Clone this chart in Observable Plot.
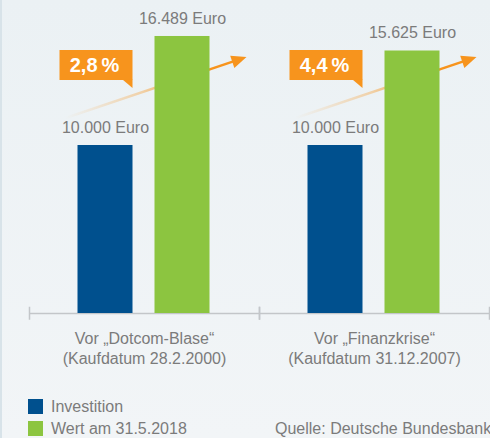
<!DOCTYPE html>
<html><head><meta charset="utf-8">
<script src="https://cdn.jsdelivr.net/npm/d3@7"></script>
<script src="https://cdn.jsdelivr.net/npm/@observablehq/plot@0.6"></script>
<style>
html,body{margin:0;padding:0;}
body{width:490px;height:438px;overflow:hidden;background:linear-gradient(#ebf1f4,#f2f5f7);font-family:"Liberation Sans",Arial,sans-serif;position:relative;}
#edge{position:absolute;left:0;top:0;width:2px;height:438px;background:#d8e3e9;}
#chart svg{display:block;}
.lt{position:absolute;font-size:16px;line-height:18px;color:#7b7b7b;white-space:nowrap;}
.sw{position:absolute;left:28px;width:15px;height:14.5px;}
</style></head>
<body>
<div id="edge"></div>
<div id="chart"></div>
<div id="legend"></div>
<script>
const groupKeys = ["Dotcom", "Finanzkrise"];
const groupLabels = ["Vor „Dotcom-Blase“\n(Kaufdatum 28.2.2000)", "Vor „Finanzkrise“\n(Kaufdatum 31.12.2007)"];
const series = ["Investition", "Wert am 31.5.2018"];
const investition = [10000, 10000];
const wert = [16489, 15625];
const rendite = ["2,8\u2009%", "4,4\u2009%"];
const colors = ["#00508e", "#8cc540"];
const quelle = "Quelle: Deutsche Bundesbank";

const rows = groupKeys.flatMap((g, i) => [
  {group: g, series: series[0], value: investition[i]},
  {group: g, series: series[1], value: wert[i]}
]);
const groupsTbl = groupKeys.map((g, i) => ({group: g, label: groupLabels[i], pct: rendite[i]}));
const fmt = v => d3.format(",")(v).replace(/,/g, ".") + " Euro";
const orange = "#f7941d";

function callout(index, scales) {
  const x = scales.x, bw = x.bandwidth();
  const b0 = x(series[0]), g0 = x(series[1]);
  const g = d3.create("svg:g");
  const defs = g.append("defs");
  const lg = defs.append("linearGradient").attr("id", "arrGrad").attr("x1", 0).attr("y1", 0).attr("x2", 1).attr("y2", 0);
  lg.append("stop").attr("offset", "0%").attr("stop-color", orange).attr("stop-opacity", 0);
  lg.append("stop").attr("offset", "45%").attr("stop-color", orange).attr("stop-opacity", 0.35);
  lg.append("stop").attr("offset", "80%").attr("stop-color", orange).attr("stop-opacity", 1);
  lg.append("stop").attr("offset", "100%").attr("stop-color", orange).attr("stop-opacity", 1);
  for (const i of index) {
    const d = groupsTbl[i];
    const sx = b0 - 12, sy = 118, tx = g0 + bw + 37, ty = 57;
    const L = Math.hypot(tx - sx, ty - sy), ux = (tx - sx) / L, uy = (ty - sy) / L;
    const nx = -uy, ny = ux;
    const hl = 15, hw = 6.5;
    const ex = tx - ux * (hl - 2), ey = ty - uy * (hl - 2);
    g.append("path").attr("d", `M${sx},${sy}L${ex},${ey}`).attr("stroke", "url(#arrGrad)").attr("stroke-width", 2.5).attr("fill", "none");
    const bx = tx - ux * hl, by = ty - uy * hl;
    g.append("path").attr("d", `M${tx},${ty}L${bx + nx * hw},${by + ny * hw}L${bx - nx * hw},${by - ny * hw}Z`).attr("fill", orange);
    const rx = b0 - 18, rw = bw + 18;
    g.append("rect").attr("x", rx).attr("y", 50).attr("width", rw).attr("height", 30).attr("fill", orange);
    g.append("path").attr("d", `M${rx + rw - 10},79.5L${rx + rw},79.5L${rx + rw},88Z`).attr("fill", orange);
    g.append("text").attr("x", b0 + 17).attr("y", 72).attr("text-anchor", "middle").attr("fill", "white")
      .attr("font-weight", "bold").attr("font-size", 20).text(d.pct);
  }
  return g.node();
}

const tickStyle = {stroke: "#c3c6c9", strokeWidth: 1.5, insetTop: 296.4, insetBottom: -5.5};
const plot = Plot.plot({
  width: 490, height: 390,
  marginLeft: 28.5, marginRight: 0.5, marginTop: 10.6, marginBottom: 77,
  style: {background: "transparent", fontFamily: "Liberation Sans, Arial, sans-serif", overflow: "visible"},
  fx: {domain: groupKeys, padding: 0, axis: null},
  x: {domain: series, paddingInner: 0.2885, paddingOuter: 0.635, align: 0.489, axis: null},
  y: {domain: [0, 18000], axis: null},
  color: {domain: series, range: colors},
  marks: [
    Plot.ruleY([0], {stroke: "#c3c6c9", strokeWidth: 1.5}),
    Plot.frame({anchor: "left", ...tickStyle}),
    Plot.frame({anchor: "right", ...tickStyle}),
    Plot.dot(groupsTbl, {fx: "group", x: () => series[0], y: () => 0, r: 0, render: callout}),
    Plot.barY(rows, {fx: "group", x: "series", y: "value", fill: "series"}),
    Plot.text(rows, {fx: "group", x: "series", y: "value", text: d => fmt(d.value), lineAnchor: "bottom", dy: -12.7, fill: "#7b7b7b", fontSize: 16}),
    Plot.text(groupsTbl, {fx: "group", text: "label", frameAnchor: "bottom", lineAnchor: "top", dy: 16.5, lineHeight: 1.25, fill: "#7b7b7b", fontSize: 16})
  ]
});
document.getElementById("chart").append(plot);

const leg = document.getElementById("legend");
series.forEach((s, i) => {
  const sw = document.createElement("div");
  sw.className = "sw"; sw.style.top = (399 + i * 22) + "px"; sw.style.background = colors[i];
  leg.append(sw);
  const t = document.createElement("div");
  t.className = "lt"; t.style.left = "51px"; t.style.top = (397.8 + i * 21.7) + "px"; t.textContent = s;
  leg.append(t);
});
const q = document.createElement("div");
q.className = "lt"; q.style.left = "275px"; q.style.top = "419.5px"; q.textContent = quelle;
leg.append(q);
</script>
</body></html>
